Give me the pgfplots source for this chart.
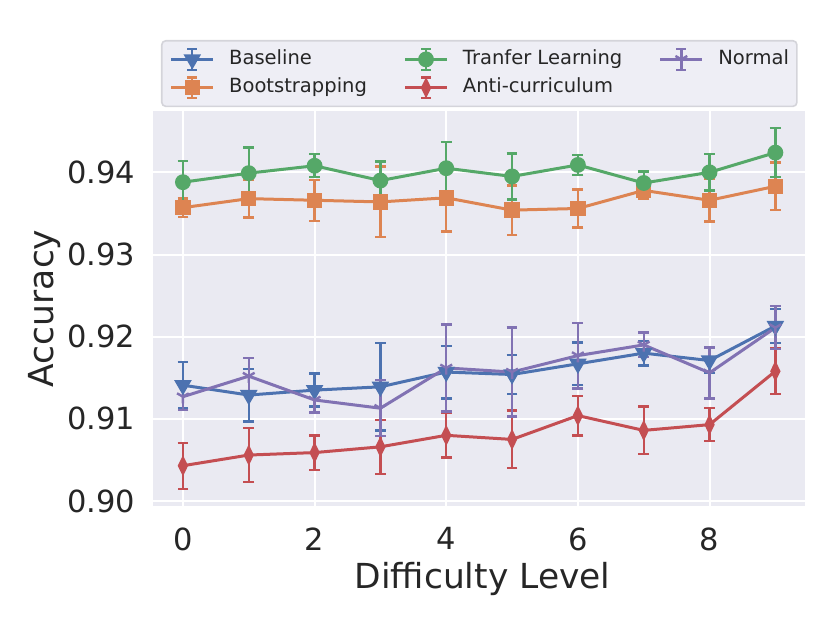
\documentclass[border=0pt]{standalone}
\usepackage{fontspec}
\setmainfont{DejaVu Sans}
\usepackage{pgfplots}
\pgfplotsset{compat=1.18}
\definecolor{sbblue}{HTML}{4C72B0}
\definecolor{sborange}{HTML}{DD8452}
\definecolor{sbgreen}{HTML}{55A868}
\definecolor{sbred}{HTML}{C44E52}
\definecolor{sbpurple}{HTML}{8172B3}
\definecolor{axbg}{HTML}{EAEAF2}
\definecolor{txt}{HTML}{262626}
\definecolor{legfill}{HTML}{EEEEF5}
\definecolor{legedge}{HTML}{D4D4DA}
\pgfdeclareplotmark{tridown}{%
  \pgfpathmoveto{\pgfpoint{0pt}{0pt}}\pgfpathlineto{\pgfpoint{0pt}{-\pgfplotmarksize}}%
  \pgfpathmoveto{\pgfpoint{0pt}{0pt}}\pgfpathlineto{\pgfpoint{0.866\pgfplotmarksize}{0.5\pgfplotmarksize}}%
  \pgfpathmoveto{\pgfpoint{0pt}{0pt}}\pgfpathlineto{\pgfpoint{-0.866\pgfplotmarksize}{0.5\pgfplotmarksize}}%
  \pgfusepathqstroke}
\pgfplotsset{
  legerr/.style={legend image code/.code={
    \draw[mark=none] (0bp,0bp) -- (21bp,0bp);
    \draw[mark=none, line width=1.2bp] (10.5bp,-5.2bp) -- (10.5bp,5.2bp);
    \draw[mark=none, line width=1.2bp] (8bp,-5.2bp) -- (13bp,-5.2bp) (8bp,5.2bp) -- (13bp,5.2bp);
    \draw plot coordinates {(10.5bp,0bp)};
  }},
  eb/.style={error bars/.cd, y dir=both, y explicit, error mark=|,
    error bar style={line width=1.2bp, #1},
    error mark options={line width=1.2bp, mark size=2.7bp, #1}, /pgfplots/.cd},
  sBase/.style={sbblue, line width=1.5bp, mark=triangle*, mark size=3.6bp, mark options={rotate=180, solid}},
  sBoot/.style={sborange, line width=1.5bp, mark=square*, mark size=3.1bp, mark options={solid}},
  sTran/.style={sbgreen, line width=1.5bp, mark=*, mark size=3.2bp, mark options={solid}},
  sAnti/.style={sbred, line width=1.5bp, mark=diamond*, mark size=3.6bp, mark options={xscale=0.65, solid}},
  sNorm/.style={sbpurple, line width=1.5bp, mark=tridown, mark size=3.4bp, mark options={solid, line width=1.2bp}},
}
\begin{document}
\begin{tikzpicture}
\useasboundingbox (0,0) rectangle (415bp,311.5bp);
\begin{axis}[
  at={(76.65bp,58.5bp)}, anchor=south west,
  scale only axis, width=325.85bp, height=197.65bp,
  xmin=-0.45, xmax=9.45, ymin=0.8994, ymax=0.9475,
  axis background/.style={fill=axbg},
  axis line style={draw=none},
  major tick length=0pt,
  grid=major, grid style={white, line width=1bp},
  xtick={0,2,4,6,8}, ytick={0.90,0.91,0.92,0.93,0.94},
  scaled y ticks=false,
  /pgf/number format/assume math mode=true,
  y tick label style={/pgf/number format/fixed, /pgf/number format/fixed zerofill, /pgf/number format/precision=2},
  ticklabel style={font=\fontsize{15.3}{18}\selectfont, text=txt, inner sep=0pt},
  xticklabel style={anchor=north, yshift=-10.5bp},
  yticklabel style={anchor=east, xshift=-9bp},
  xlabel={Difficulty Level},
  xlabel style={font=\fontsize{17.3}{20}\selectfont, text=txt, at={(axis description cs:0.5,0)}, anchor=base, yshift=-41bp, xshift=1.7bp, inner sep=0pt},
  ylabel={Accuracy},
  ylabel style={font=\fontsize{17.3}{20}\selectfont, text=txt, at={(axis description cs:0,0.5)}, anchor=base, yshift=50bp, inner sep=0pt},
  legend columns=3, legend cell align=left,
  legend style={at={(axis description cs:0.0118,1.1789)}, anchor=north west,
    draw=legedge, fill=legfill, line width=0.8bp, rounded corners=2bp,
    font=\fontsize{9.8}{12}\selectfont, text=txt,
    inner xsep=4bp, inner ysep=3.5bp, row sep=2.6bp,
    nodes={inner sep=0pt, text height=7.4bp, text depth=2.3bp},
    /tikz/every odd column/.append style={column sep=7.2bp},
    /tikz/every even column/.append style={column sep=18.3bp}},
]
% Baseline
\addplot[forget plot, sBase, eb={sbblue}] table[x index=0, y index=1, y error index=2] {
0 0.9141 0.0028
1 0.9129 0.0032
2 0.9135 0.0020
3 0.9139 0.0053
4 0.9157 0.0032
5 0.9154 0.0024
6 0.9167 0.0026
7 0.9180 0.0015
8 0.9171 0.0015
9 0.9213 0.0021
};
% Bootstrapping
\addplot[forget plot, sBoot, eb={sborange}] table[x index=0, y index=1, y error index=2] {
0 0.9357 0.0011
1 0.9368 0.0023
2 0.9366 0.0025
3 0.9364 0.0043
4 0.9369 0.0041
5 0.9354 0.0030
6 0.9356 0.0023
7 0.9378 0.0010
8 0.9366 0.0026
9 0.9383 0.0029
};
% Transfer Learning
\addplot[forget plot, sTran, eb={sbgreen}] table[x index=0, y index=1, y error index=2] {
0 0.9388 0.0026
1 0.9399 0.0031
2 0.9408 0.0014
3 0.9390 0.0023
4 0.9405 0.0032
5 0.9395 0.0028
6 0.9409 0.0012
7 0.9387 0.0014
8 0.9400 0.0022
9 0.9424 0.0030
};
% Anti-curriculum
\addplot[forget plot, sAnti, eb={sbred}] table[x index=0, y index=1, y error index=2] {
0 0.9043 0.0028
1 0.9056 0.0033
2 0.9059 0.0021
3 0.9066 0.0033
4 0.9080 0.0027
5 0.9075 0.0035
6 0.9104 0.0024
7 0.9086 0.0029
8 0.9093 0.0020
9 0.9158 0.0028
};
% Normal
\addplot[forget plot, sNorm, eb={sbpurple}] table[x index=0, y index=1, y error index=2] {
0 0.9127 0.0016
1 0.9152 0.0022
2 0.9123 0.0015
3 0.9113 0.0034
4 0.9162 0.0053
5 0.9157 0.0054
6 0.9177 0.0040
7 0.9190 0.0015
8 0.9156 0.0031
9 0.9211 0.0026
};
\addlegendimage{sBase, legerr}
\addlegendentry{Baseline}
\addlegendimage{sTran, legerr}
\addlegendentry{Tranfer Learning}
\addlegendimage{sNorm, legerr}
\addlegendentry{Normal}
\addlegendimage{sBoot, legerr}
\addlegendentry{Bootstrapping}
\addlegendimage{sAnti, legerr}
\addlegendentry{Anti-curriculum}
\end{axis}
\end{tikzpicture}
\end{document}
